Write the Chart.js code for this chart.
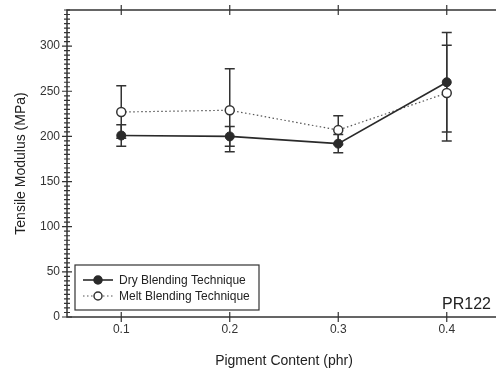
<!DOCTYPE html>
<html>
<head>
<meta charset="utf-8">
<script src="https://cdn.jsdelivr.net/npm/chart.js@4"></script>
<style>
  html, body { margin: 0; padding: 0; overflow: hidden; background: #fff; }
  #wrap { width: 510px; height: 373px; }
</style>
</head>
<body>
<div id="wrap"><canvas id="modChart" width="510" height="373"></canvas></div>
<script>
var pigment = [0.1, 0.2, 0.3, 0.4];
var dryModulus = [201, 200, 192, 260];
var dryErr = [12, 11, 10, 55];
var meltModulus = [227, 229, 207, 248];
var meltErr = [29, 46, 16, 53];
var xTicks = [0.1, 0.2, 0.3, 0.4];
var yTicks = [0, 50, 100, 150, 200, 250, 300];
var yMinor = 5;

function pts(xs, ys) {
    return xs.map(function (x, i) { return { x: x, y: ys[i] }; });
}

var ink = '#2a2a2a';

// frame with ticks crossing the axis lines, plus error bars and the boxed legend
var extras = {
    id: 'extras',
    beforeDatasetsDraw: function (chart) {
        var c = chart.ctx;
        var xs = chart.scales.x, ys = chart.scales.y;
        c.save();
        c.strokeStyle = '#333';
        c.lineWidth = 1.5;
        [[dryModulus, dryErr], [meltModulus, meltErr]].forEach(function (s) {
            s[0].forEach(function (v, i) {
                var px = xs.getPixelForValue(pigment[i]);
                var top = ys.getPixelForValue(v + s[1][i]);
                var bot = ys.getPixelForValue(v - s[1][i]);
                c.beginPath();
                c.moveTo(px, top); c.lineTo(px, bot);
                c.moveTo(px - 5, top); c.lineTo(px + 5, top);
                c.moveTo(px - 5, bot); c.lineTo(px + 5, bot);
                c.stroke();
            });
        });
        c.restore();
    },
    afterDraw: function (chart) {
        var c = chart.ctx, a = chart.chartArea;
        var xs = chart.scales.x, ys = chart.scales.y;
        c.save();
        c.strokeStyle = '#333';
        c.lineWidth = 1.5;
        c.strokeRect(a.left, a.top, a.right - a.left, a.bottom - a.top);
        c.lineWidth = 1.2;
        c.beginPath();
        for (var v = 0; v <= ys.max; v += yMinor) {
            var py = ys.getPixelForValue(v);
            var len = v % 50 === 0 ? 5 : 3;
            c.moveTo(a.left - len, py); c.lineTo(a.left + len, py);
        }
        xTicks.forEach(function (t) {
            var px = xs.getPixelForValue(t);
            c.moveTo(px, a.bottom - 5); c.lineTo(px, a.bottom + 5);
            c.moveTo(px, a.top - 5); c.lineTo(px, a.top + 5);
        });
        c.stroke();

        // legend
        var lx = 75, ly = 265, lw = 184, lh = 45;
        c.fillStyle = '#fff';
        c.fillRect(lx, ly, lw, lh);
        c.lineWidth = 1.2;
        c.strokeRect(lx, ly, lw, lh);
        chart.data.datasets.forEach(function (ds, i) {
            var ry = 280 + i * 16;
            c.save();
            c.strokeStyle = ds.borderColor;
            c.lineWidth = ds.borderWidth;
            c.setLineDash(ds.borderDash || []);
            c.beginPath();
            c.moveTo(83, ry); c.lineTo(113, ry);
            c.stroke();
            c.setLineDash([]);
            c.beginPath();
            c.arc(98, ry, 4, 0, Math.PI * 2);
            c.fillStyle = ds.pointBackgroundColor;
            c.fill();
            c.strokeStyle = ds.pointBorderColor;
            c.lineWidth = 1.5;
            c.stroke();
            c.restore();
            c.fillStyle = '#222';
            c.font = '12px "Liberation Sans", Arial, sans-serif';
            c.textBaseline = 'middle';
            c.fillText(ds.label, 119, ry + 1);
        });

        c.fillStyle = '#222';
        c.font = '16px "Liberation Sans", Arial, sans-serif';
        c.textBaseline = 'alphabetic';
        c.fillText('PR122', 442, 309);
        c.restore();
    }
};

var ctx = document.getElementById('modChart').getContext('2d');

var modChart = new Chart(ctx, {
    type: 'line',
    data: {
        datasets: [{
            label: 'Dry Blending Technique',
            data: pts(pigment, dryModulus),
            borderColor: ink,
            borderWidth: 1.6,
            pointRadius: 4.5,
            pointBackgroundColor: ink,
            pointBorderColor: ink,
            pointBorderWidth: 1,
            tension: 0
        }, {
            label: 'Melt Blending Technique',
            data: pts(pigment, meltModulus),
            borderColor: '#555',
            borderWidth: 1.2,
            borderDash: [1.5, 2.5],
            pointRadius: 4.5,
            pointBackgroundColor: '#fff',
            pointBorderColor: '#333',
            pointBorderWidth: 1.5,
            tension: 0
        }]
    },
    options: {
        responsive: false,
        animation: false,
        layout: { padding: { top: 10, right: 9, left: 0, bottom: 0 } },
        plugins: { legend: { display: false }, tooltip: { enabled: false } },
        scales: {
            x: {
                type: 'linear',
                min: 0.05,
                max: 0.45,
                afterBuildTicks: function (s) { s.ticks = xTicks.map(function (v) { return { value: v }; }); },
                afterFit: function (s) { s.height = 56; s.paddingLeft = 0; s.paddingRight = 0; },
                grid: { display: false, drawTicks: false, tickLength: 0 },
                border: { display: false },
                ticks: {
                    padding: 5,
                    color: '#333',
                    font: { family: '"Liberation Sans", Arial, sans-serif', size: 12 },
                    callback: function (v) { return v.toFixed(1); }
                },
                title: {
                    display: true,
                    text: 'Pigment Content (phr)',
                    color: '#222',
                    padding: { top: 10, bottom: 3 },
                    font: { family: '"Liberation Sans", Arial, sans-serif', size: 14 }
                }
            },
            y: {
                min: 0,
                max: 340,
                afterBuildTicks: function (s) { s.ticks = yTicks.map(function (v) { return { value: v }; }); },
                afterFit: function (s) { s.width = 67; s.paddingTop = 0; s.paddingBottom = 0; },
                grid: { display: false, drawTicks: false, tickLength: 0 },
                border: { display: false },
                ticks: {
                    padding: 7,
                    color: '#333',
                    font: { family: '"Liberation Sans", Arial, sans-serif', size: 12 }
                },
                title: {
                    display: true,
                    text: 'Tensile Modulus (MPa)',
                    color: '#222',
                    padding: { top: 13, bottom: 0 },
                    font: { family: '"Liberation Sans", Arial, sans-serif', size: 14 }
                }
            }
        }
    },
    plugins: [extras]
});
</script>
</body>
</html>
